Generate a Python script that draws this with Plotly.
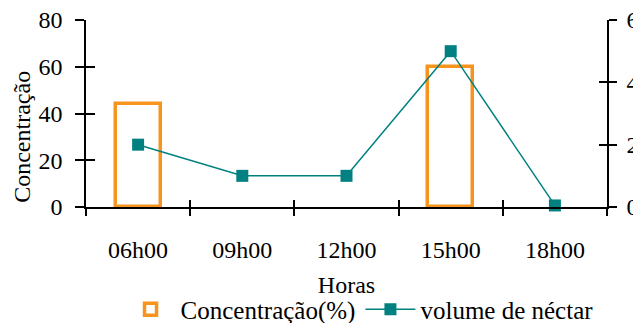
import plotly.graph_objects as go

hours = ["06h00", "09h00", "12h00", "15h00", "18h00"]
concentracao = [44, None, None, 60, None]
volume = [2, 1, 1, 5, 0.05]
left_ticks = [0, 20, 40, 60, 80]
right_ticks = [0, 2, 4, 6]

ORANGE = "#F7941E"
TEAL = "#008080"
FONT = "Liberation Serif, Times New Roman, serif"

fig = go.Figure()
fig.add_trace(go.Bar(
    x=hours, y=concentracao, name="Concentração(%)", width=0.43,
    marker=dict(color="white", line=dict(color=ORANGE, width=3.5)),
))
fig.add_trace(go.Scatter(
    x=hours, y=volume, name="volume de néctar", yaxis="y2",
    mode="lines+markers", cliponaxis=False,
    line=dict(color=TEAL, width=1.5),
    marker=dict(symbol="square", size=12, color=TEAL),
))
# empty helper traces so the inner-tick overlay axes are drawn
fig.add_trace(go.Scatter(x=[], y=[], xaxis="x2", yaxis="y3", showlegend=False, hoverinfo="skip"))
fig.add_trace(go.Scatter(x=[], y=[], xaxis="x2", yaxis="y4", showlegend=False, hoverinfo="skip"))

n = len(hours)
bounds = [i - 0.5 for i in range(n + 1)]
axis_common = dict(showgrid=False, zeroline=False, linecolor="black", linewidth=1.5,
                   tickcolor="black", tickwidth=1.5, automargin=False)
inner_common = dict(showticklabels=False, showline=False, showgrid=False, zeroline=False,
                    tickcolor="black", tickwidth=1.5, automargin=False)

fig.update_layout(
    width=633, height=315,
    margin=dict(l=78, r=34, t=12, b=116, autoexpand=False),
    paper_bgcolor="white", plot_bgcolor="white",
    font=dict(family=FONT, size=24, color="black"),
    bargap=0,
    xaxis=dict(type="category", categoryorder="array", categoryarray=hours,
               range=[-0.5, n - 0.5], tickson="boundaries", ticks="outside", ticklen=7,
               showline=True, ticklabelstandoff=20, ticklabeloverflow="allow",
               title=dict(text="Horas", standoff=15, font=dict(size=24)),
               **axis_common),
    xaxis2=dict(overlaying="x", range=[-0.5, n - 0.5], tickvals=bounds, ticks="inside",
                ticklen=7, anchor="y", **inner_common),
    yaxis=dict(range=[0, 80], tickvals=left_ticks, ticks="outside", ticklen=9,
               showline=True, ticklabelstandoff=8, ticklabeloverflow="allow",
               **axis_common),
    yaxis2=dict(overlaying="y", side="right", range=[0, 6], tickvals=right_ticks,
                ticks="outside", ticklen=8, showline=True, ticklabelstandoff=5,
                ticklabeloverflow="allow", anchor="x", **axis_common),
    yaxis3=dict(overlaying="y", side="left", range=[0, 80], tickvals=left_ticks,
                ticks="inside", ticklen=9, anchor="x2", **inner_common),
    yaxis4=dict(overlaying="y", side="right", range=[0, 6], tickvals=right_ticks,
                ticks="inside", ticklen=8, anchor="x2", **inner_common),
    legend=dict(orientation="h", x=0.525, xanchor="center", y=-0.425, yanchor="top",
                font=dict(size=25), bgcolor="rgba(0,0,0,0)", itemwidth=50,
                tracegroupgap=0),
    showlegend=True,
    annotations=[dict(text="Concentração", textangle=-90, xref="paper", yref="paper",
                      x=-0.123, y=0.375, xanchor="center", yanchor="middle",
                      showarrow=False, font=dict(size=24))],
)

fig.write_html("out.html")
